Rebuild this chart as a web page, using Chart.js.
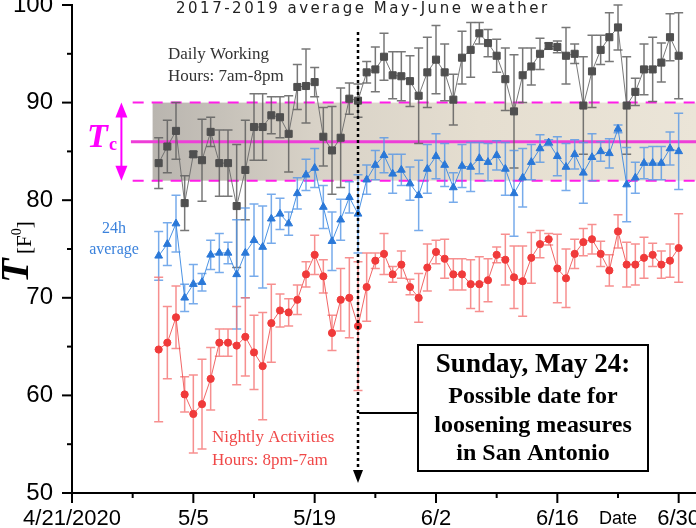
<!DOCTYPE html>
<html>
<head>
<meta charset="utf-8">
<script src="https://cdn.jsdelivr.net/npm/chart.js@4.4.1/dist/chart.umd.min.js"></script>
<style>
  html, body { margin: 0; padding: 0; background: #fff; }
  canvas { display: block; }
</style>
</head>
<body>
<canvas id="tempChart" width="696" height="528"></canvas>
<script>
// x values are days after 4/21/2020 (5/1 ... 6/30)
const dayOffsets = [10, 11, 12, 13, 14, 15, 16, 17, 18, 19, 20, 21, 22, 23, 24, 25, 26, 27, 28, 29,
  30, 31, 32, 33, 34, 35, 36, 37, 38, 39, 40, 41, 42, 43, 44, 45, 46, 47, 48, 49,
  50, 51, 52, 53, 54, 55, 56, 57, 58, 59, 60, 61, 62, 63, 64, 65, 66, 67, 68, 69, 70];

// Daily working hours 7am-8pm
const workingTemps = [83.8, 85.5, 87.1, 79.7, 84.7, 84.1, 87.0, 83.8, 83.8, 79.4, 83.1, 87.5, 87.5, 88.7, 88.5, 86.8, 91.6, 91.7, 92.1, 86.5,
  85.1, 86.4, 90.4, 90.2, 93.1, 93.4, 94.7, 92.8, 92.7, 92.2, 90.7, 93.1, 94.4, 93.1, 90.3, 94.6, 95.4, 97.1, 96.1, 94.8,
  92.4, 89.1, 92.8, 93.7, 95.0, 95.8, 95.7, 94.8, 95.0, 89.7, 93.2, 95.4, 96.7, 97.7, 89.7, 91.1, 93.4, 93.4, 94.1, 96.7, 94.8];
const workingErr = [2.6, 2.7, 2.9, 2.8, 0.3, 4.2, 1.5, 3.4, 3.4, 6.3, 5.1, 3.4, 3.4, 1.9, 2.1, 3.9, 2.3, 3.8, 1.5, 3.0,
  4.5, 5.1, 1.6, 1.7, 1.1, 2.3, 2.4, 2.4, 2.5, 2.6, 4.9, 3.6, 3.5, 2.9, 2.6, 2.7, 2.8, 1.1, 1.4, 1.7,
  3.2, 5.8, 2.8, 1.9, 1.6, 0.3, 0.6, 2.9, 1.0, 5.0, 3.7, 1.5, 2.5, 2.3, 5.0, 1.4, 2.6, 3.3, 2.0, 2.4, 4.4];

// 24h average
const avgTemps = [74.3, 75.5, 77.6, 70.0, 71.4, 71.6, 74.4, 74.6, 74.6, 72.4, 74.6, 75.9, 75.2, 78.1, 78.6, 77.6, 80.7, 82.6, 83.3, 79.3,
  75.8, 78.0, 80.3, 78.6, 82.1, 83.6, 84.6, 82.7, 83.1, 81.7, 80.5, 83.2, 84.5, 83.6, 81.3, 83.5, 83.4, 84.3, 83.9, 84.6,
  83.2, 80.7, 82.3, 83.9, 85.3, 85.9, 84.5, 83.4, 84.7, 82.8, 84.4, 85.0, 84.8, 87.3, 81.6, 82.3, 83.8, 83.8, 83.8, 85.3, 85.0];
const avgErr = [2.5, 2.2, 2.9, 1.4, 2.0, 0.9, 1.5, 2.0, 1.1, 5.6, 4.6, 3.7, 4.2, 2.5, 1.6, 1.2, 1.6, 1.6, 2.0, 2.2,
  3.0, 2.1, 1.6, 4.0, 1.5, 1.5, 1.8, 2.0, 1.6, 1.7, 3.6, 2.5, 2.3, 2.2, 1.5, 2.2, 2.5, 1.6, 1.9, 1.5,
  2.7, 4.4, 3.0, 1.8, 1.4, 0.3, 2.0, 2.4, 1.5, 3.1, 2.4, 1.0, 1.5, 0.4, 3.8, 1.6, 1.6, 1.7, 1.7, 1.7, 3.9];

// Nightly activities 8pm-7am
const nightTemps = [64.7, 65.4, 68.0, 60.1, 58.1, 59.1, 61.7, 65.4, 65.4, 65.1, 66.0, 64.4, 63.0, 67.4, 68.7, 68.5, 69.8, 72.4, 74.4, 72.2,
  66.4, 69.8, 70.0, 67.1, 71.1, 73.8, 74.5, 72.4, 73.4, 71.1, 70.0, 73.1, 74.7, 74.0, 72.4, 72.4, 71.4, 71.4, 71.8, 74.4,
  73.9, 72.1, 71.7, 74.1, 75.5, 76.0, 73.0, 72.0, 74.5, 75.7, 76.0, 74.5, 72.8, 76.8, 73.4, 73.4, 74.1, 74.4, 73.4, 73.8, 75.1];
const nightErr = [7.4, 3.7, 3.2, 1.8, 4.0, 4.6, 3.2, 1.4, 1.4, 4.0, 4.0, 3.8, 5.5, 4.0, 1.7, 1.4, 1.5, 1.3, 2.0, 1.7,
  1.8, 3.2, 4.1, 6.6, 3.5, 0.8, 2.1, 0.8, 1.4, 0.8, 2.5, 2.4, 1.2, 2.0, 1.6, 1.6, 2.5, 2.8, 2.2, 0.8,
  2.6, 3.2, 3.6, 2.6, 1.4, 0.6, 3.5, 3.0, 1.5, 1.4, 1.5, 1.3, 1.6, 1.7, 2.3, 2.1, 2.1, 1.2, 1.4, 1.7, 3.5];

const xTickDays = [0, 14, 28, 42, 56, 70];
const xTickLabels = ['4/21/2020', '5/5', '5/19', '6/2', '6/16', '6/30'];
const yTickValues = [50, 60, 70, 80, 90, 100];

// comfort band (2017-2019 average May-June weather)
const tcLow = 82, tcMid = 86, tcHigh = 90;
const markerDay = 33; // Sunday, May 24

function makeSeries(temps) {
    return dayOffsets.map((d, i) => ({ x: d, y: temps[i] }));
}

const SERIF = '"Liberation Serif", "Times New Roman", serif';
const SANS = '"Liberation Sans", Arial, sans-serif';

const decorPlugin = {
    id: 'decor',
    beforeDatasetsDraw(chart) {
        const { ctx, scales: { x, y }, chartArea } = chart;
        ctx.save();

        // shaded band
        const bandLeft = x.getPixelForValue(9.3);
        const grad = ctx.createLinearGradient(bandLeft, 0, chartArea.right, 0);
        grad.addColorStop(0, '#b9b5af');
        grad.addColorStop(0.3, '#d8d2c7');
        grad.addColorStop(0.6, '#e5ded0');
        grad.addColorStop(1, '#ebe5d8');
        ctx.fillStyle = grad;
        ctx.fillRect(bandLeft, y.getPixelForValue(tcHigh), chartArea.right - bandLeft,
            y.getPixelForValue(tcLow) - y.getPixelForValue(tcHigh));

        // dashed limits
        ctx.strokeStyle = '#ff1ee8';
        ctx.lineWidth = 2;
        ctx.setLineDash([11, 8]);
        [tcHigh, tcLow].forEach(v => {
            const py = y.getPixelForValue(v);
            ctx.beginPath();
            ctx.moveTo(x.getPixelForValue(7), py);
            ctx.lineTo(chartArea.right, py);
            ctx.stroke();
        });
        ctx.setLineDash([]);

        // Tc line
        ctx.strokeStyle = '#ee3ed8';
        ctx.lineWidth = 3;
        const pm = y.getPixelForValue(tcMid);
        ctx.beginPath();
        ctx.moveTo(x.getPixelForValue(6.8), pm);
        ctx.lineTo(chartArea.right, pm);
        ctx.stroke();

        // double arrow
        const ax = x.getPixelForValue(5.7);
        const aTop = y.getPixelForValue(tcHigh);
        const aBot = y.getPixelForValue(tcLow);
        ctx.strokeStyle = '#ff00ff';
        ctx.fillStyle = '#ff00ff';
        ctx.lineWidth = 2;
        ctx.beginPath();
        ctx.moveTo(ax, aTop + 10);
        ctx.lineTo(ax, aBot - 10);
        ctx.stroke();
        ctx.beginPath();
        ctx.moveTo(ax, aTop);
        ctx.lineTo(ax - 6, aTop + 15);
        ctx.lineTo(ax + 6, aTop + 15);
        ctx.closePath();
        ctx.fill();
        ctx.beginPath();
        ctx.moveTo(ax, aBot);
        ctx.lineTo(ax - 6, aBot - 15);
        ctx.lineTo(ax + 6, aBot - 15);
        ctx.closePath();
        ctx.fill();

        // error bars
        chart.data.datasets.forEach(ds => {
            ctx.strokeStyle = ds.errorColor;
            ctx.lineWidth = 1.5;
            ds.data.forEach((pt, i) => {
                const e = ds.errors[i];
                const px = x.getPixelForValue(pt.x);
                const top = y.getPixelForValue(pt.y + e);
                const bot = y.getPixelForValue(pt.y - e);
                ctx.beginPath();
                ctx.moveTo(px, top);
                ctx.lineTo(px, bot);
                ctx.moveTo(px - 4.5, top);
                ctx.lineTo(px + 4.5, top);
                ctx.moveTo(px - 4.5, bot);
                ctx.lineTo(px + 4.5, bot);
                ctx.stroke();
            });
        });
        ctx.restore();
    },
    afterDatasetsDraw(chart) {
        const { ctx, scales: { x, y } } = chart;
        ctx.save();

        // May 24 marker
        const mx = x.getPixelForValue(markerDay);
        ctx.strokeStyle = '#000';
        ctx.lineWidth = 2.5;
        ctx.setLineDash([3, 3]);
        ctx.beginPath();
        ctx.moveTo(mx, 32);
        ctx.lineTo(mx, 470);
        ctx.stroke();
        ctx.setLineDash([]);
        ctx.fillStyle = '#000';
        ctx.beginPath();
        ctx.moveTo(mx - 5, 470);
        ctx.lineTo(mx + 5, 470);
        ctx.lineTo(mx, 483);
        ctx.closePath();
        ctx.fill();

        // callout box
        ctx.lineWidth = 2;
        ctx.beginPath();
        ctx.moveTo(mx + 1, 413);
        ctx.lineTo(418, 413);
        ctx.stroke();
        ctx.fillStyle = '#fff';
        ctx.fillRect(418, 345, 230, 126);
        ctx.strokeRect(418, 345, 230, 126);
        ctx.fillStyle = '#000';
        ctx.textAlign = 'center';
        ctx.textBaseline = 'alphabetic';
        ctx.font = 'bold 27px ' + SERIF;
        ctx.fillText('Sunday, May 24:', 533, 372);
        ctx.font = 'bold 24px ' + SERIF;
        ctx.fillText('Possible date for', 533, 403);
        ctx.fillText('loosening measures', 533, 432);
        ctx.fillText('in San Antonio', 533, 460);

        // series labels
        ctx.textAlign = 'left';
        ctx.font = '17px ' + SERIF;
        ctx.fillStyle = '#333';
        ctx.fillText('Daily Working', 168, 59);
        ctx.fillText('Hours: 7am-8pm', 168, 81);
        ctx.fillStyle = '#f04848';
        ctx.fillText('Nightly Activities', 212, 442);
        ctx.fillText('Hours: 8pm-7am', 212, 465);
        ctx.textAlign = 'center';
        ctx.font = '16px ' + SERIF;
        ctx.fillStyle = '#3b82dc';
        ctx.fillText('24h', 114, 233);
        ctx.fillText('average', 114, 254);

        // Tc
        ctx.textAlign = 'left';
        ctx.fillStyle = '#ff00ff';
        ctx.font = 'italic bold 34px ' + SERIF;
        ctx.fillText('T', 87, 147);
        ctx.font = 'bold 18px ' + SERIF;
        ctx.fillText('c', 109, 150);

        // title
        ctx.fillStyle = '#222';
        ctx.font = '15px "DejaVu Sans", Verdana, sans-serif';
        ctx.letterSpacing = '2.5px';
        ctx.fillText('2017-2019 average May-June weather', 176, 13);
        ctx.letterSpacing = '0px';
        ctx.restore();
    },
    afterDraw(chart) {
        const { ctx, scales: { x, y }, chartArea } = chart;
        ctx.save();
        ctx.strokeStyle = '#000';
        ctx.lineWidth = 2;
        // x ticks, major every 14 days, minor in between
        for (let d = 0; d <= 70; d += 7) {
            const px = x.getPixelForValue(d);
            const len = xTickDays.includes(d) ? 10 : 5;
            ctx.beginPath();
            ctx.moveTo(px, chartArea.bottom);
            ctx.lineTo(px, chartArea.bottom + len);
            ctx.stroke();
        }
        for (let v = 50; v <= 100; v += 5) {
            const py = y.getPixelForValue(v);
            const len = yTickValues.includes(v) ? 10 : 5;
            ctx.beginPath();
            ctx.moveTo(chartArea.left, py);
            ctx.lineTo(chartArea.left - len, py);
            ctx.stroke();
        }

        // axis titles
        ctx.fillStyle = '#000';
        ctx.font = '18px ' + SANS;
        ctx.textAlign = 'center';
        ctx.fillText('Date', 618, 524);

        ctx.translate(28, 283);
        ctx.rotate(-Math.PI / 2);
        ctx.textAlign = 'left';
        ctx.font = 'italic bold 40px ' + SERIF;
        ctx.fillText('T', 0, 0);
        ctx.font = '21px ' + SERIF;
        ctx.fillText('[F', 29, 3);
        let off = 29 + ctx.measureText('[F').width;
        ctx.font = '14px ' + SERIF;
        ctx.fillText('0', off, -7);
        off += ctx.measureText('0').width;
        ctx.font = '21px ' + SERIF;
        ctx.fillText(']', off, 3);
        ctx.restore();
    }
};

const ctx = document.getElementById('tempChart').getContext('2d');
new Chart(ctx, {
    type: 'line',
    data: {
        datasets: [{
            label: 'Daily Working Hours: 7am-8pm',
            data: makeSeries(workingTemps),
            errors: workingErr,
            errorColor: 'rgba(95, 95, 95, 0.85)',
            borderColor: 'rgba(105, 105, 105, 0.9)',
            borderWidth: 1,
            pointStyle: 'rect',
            pointRadius: 5,
            pointBackgroundColor: '#4f4f4f',
            pointBorderColor: '#4f4f4f',
            pointBorderWidth: 1
        }, {
            label: '24h average',
            data: makeSeries(avgTemps),
            errors: avgErr,
            errorColor: 'rgba(85, 150, 230, 0.8)',
            borderColor: 'rgba(55, 135, 225, 0.9)',
            borderWidth: 1,
            pointStyle: 'triangle',
            pointRadius: 4.5,
            pointBackgroundColor: '#2a78d8',
            pointBorderColor: '#2a78d8',
            pointBorderWidth: 1
        }, {
            label: 'Nightly Activities Hours: 8pm-7am',
            data: makeSeries(nightTemps),
            errors: nightErr,
            errorColor: 'rgba(245, 115, 115, 0.8)',
            borderColor: 'rgba(240, 85, 85, 0.9)',
            borderWidth: 1,
            pointStyle: 'circle',
            pointRadius: 3.6,
            pointBackgroundColor: '#f03a3a',
            pointBorderColor: '#f03a3a',
            pointBorderWidth: 1
        }]
    },
    options: {
        responsive: false,
        animation: false,
        layout: { autoPadding: false, padding: { top: 5, left: 0, right: 0, bottom: 0 } },
        scales: {
            x: {
                type: 'linear',
                min: 0,
                max: 72,
                grid: { display: false, drawTicks: false },
                border: { display: true, color: '#000', width: 2 },
                ticks: {
                    stepSize: 7,
                    includeBounds: false,
                    autoSkip: false,
                    maxRotation: 0,
                    padding: 13,
                    color: '#000',
                    font: { family: SANS, size: 22 },
                    callback: function(value) {
                        const i = xTickDays.indexOf(value);
                        return i >= 0 ? xTickLabels[i] : '';
                    }
                },
                afterFit: function(scale) {
                    scale.height = 35;
                    scale.paddingLeft = 0;
                    scale.paddingRight = 0;
                }
            },
            y: {
                min: 50,
                max: 100,
                grid: { display: false, drawTicks: false },
                border: { display: true, color: '#000', width: 2 },
                ticks: {
                    stepSize: 5,
                    padding: 19,
                    color: '#000',
                    font: { family: SANS, size: 24 },
                    callback: function(value) {
                        return yTickValues.includes(value) ? value : '';
                    }
                },
                afterFit: function(scale) {
                    scale.width = 72;
                    scale.paddingTop = 0;
                    scale.paddingBottom = 0;
                }
            }
        },
        plugins: {
            legend: { display: false },
            tooltip: { enabled: false }
        }
    },
    plugins: [decorPlugin]
});
</script>
</body>
</html>
